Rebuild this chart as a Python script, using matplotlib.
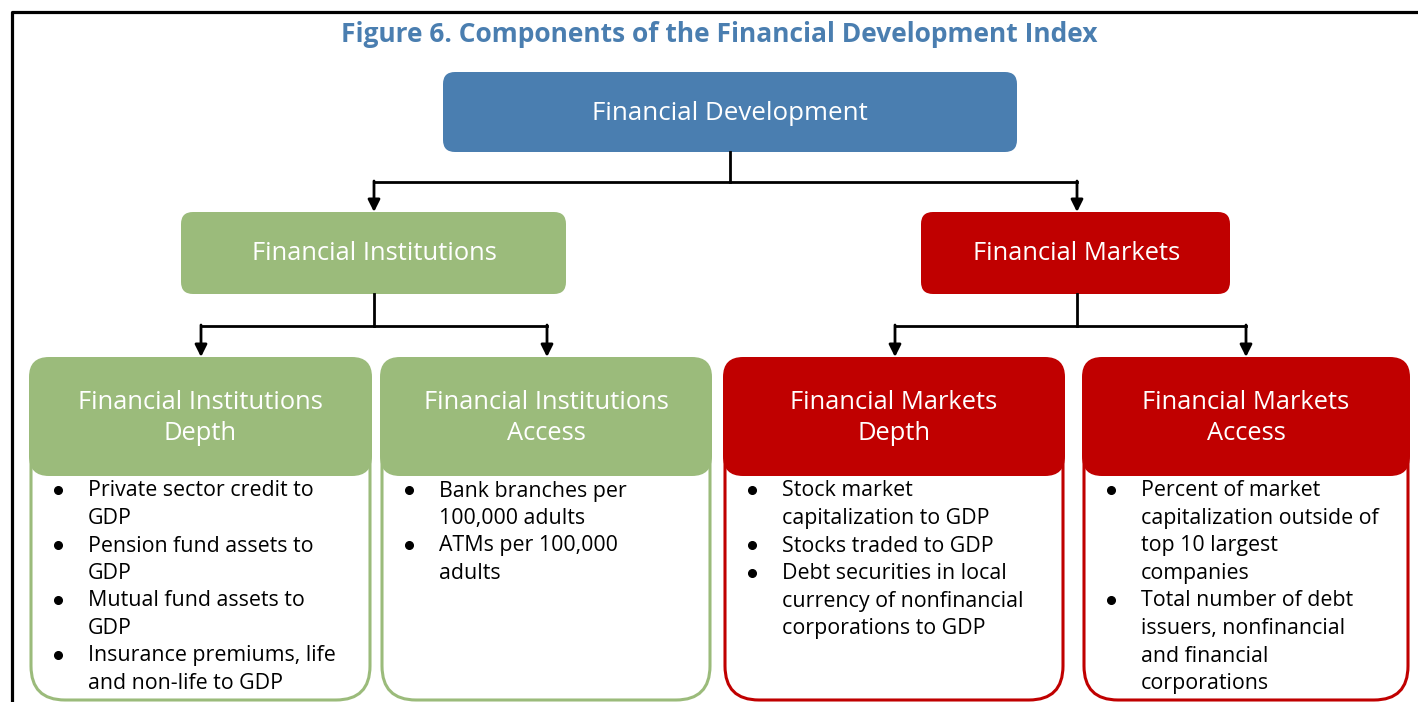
import matplotlib.pyplot as plt
from matplotlib.patches import FancyBboxPatch

plt.rcParams['font.family'] = ['Open Sans', 'DejaVu Sans']

title = "Figure 6. Components of the Financial Development Index"
top_label = "Financial Development"
mid_labels = ["Financial Institutions", "Financial Markets"]
sub_labels = ["Financial Institutions\nDepth", "Financial Institutions\nAccess",
              "Financial Markets\nDepth", "Financial Markets\nAccess"]
# each bullet: list of wrapped lines
fid_items = [["Private sector credit to", "GDP"],
             ["Pension fund assets to", "GDP"],
             ["Mutual fund assets to", "GDP"],
             ["Insurance premiums, life", "and non-life to GDP"]]
fia_items = [["Bank branches per", "100,000 adults"],
             ["ATMs per 100,000", "adults"]]
fmd_items = [["Stock market", "capitalization to GDP"],
             ["Stocks traded to GDP"],
             ["Debt securities in local", "currency of nonfinancial", "corporations to GDP"]]
fma_items = [["Percent of market", "capitalization outside of", "top 10 largest", "companies"],
             ["Total number of debt", "issuers, nonfinancial", "and financial", "corporations"]]
sub_items = [fid_items, fia_items, fmd_items, fma_items]

blue = "#4A7EB0"
green = "#9BBB7B"
red = "#C00000"

W, H = 1418, 702
fig = plt.figure(figsize=(W / 100, H / 100), dpi=100)
ax = fig.add_axes([0, 0, 1, 1])
ax.set_xlim(0, W)
ax.set_ylim(H, 0)
ax.axis('off')

# outer frame (left and top only visible)
ax.plot([12, 12, W + 5], [H + 5, 12, 12], color='black', lw=2.3, solid_capstyle='butt')

ax.text(719, 35, title, ha='center', va='center', fontsize=19, fontweight='bold', color=blue)


def box(x0, y0, x1, y1, color, r, fill=True, lw=0):
    p = FancyBboxPatch((x0, y0), x1 - x0, y1 - y0,
                       boxstyle="round,pad=0,rounding_size=%d" % r,
                       facecolor=color if fill else 'white',
                       edgecolor=color, lw=lw, mutation_aspect=1)
    ax.add_patch(p)


def arrow(x, y0, y1):
    ax.annotate('', xy=(x, y1), xytext=(x, y0),
                arrowprops=dict(arrowstyle='-|>', lw=2, color='black',
                                mutation_scale=18, shrinkA=0, shrinkB=0))


# top box
box(443, 72, 1017, 152, blue, 12)
ax.text(730, 113, top_label, ha='center', va='center', fontsize=18.6, color='white')

# connectors level 1
ax.plot([730, 730], [152, 182], color='black', lw=2)
ax.plot([374, 1077], [182, 182], color='black', lw=2)
arrow(374, 181, 212)
arrow(1077, 181, 212)

mid_boxes = [(181, 566, green, 374), (921, 1230, red, 1077)]
for (x0, x1, c, cx), lab in zip(mid_boxes, mid_labels):
    box(x0, 212, x1, 294, c, 12)
    ax.text(cx, 254, lab, ha='center', va='center', fontsize=18.4, color='white')
    ax.plot([cx, cx], [294, 326], color='black', lw=2)

# connectors level 2
ax.plot([201, 547], [326, 326], color='black', lw=2)
ax.plot([895, 1246], [326, 326], color='black', lw=2)
for x in [201, 547, 895, 1246]:
    arrow(x, 325, 357)

sub_boxes = [(29, 372, green), (380, 712, green), (723, 1065, red), (1082, 1410, red)]
line_h = 27.5
for (x0, x1, c), lab, items in zip(sub_boxes, sub_labels, sub_items):
    box(x0 + 2, 362, x1 - 2, 700, c, 34, fill=False, lw=2.2)
    box(x0, 357, x1, 476, c, 20)
    ax.text((x0 + x1) / 2, 418, lab, ha='center', va='center', fontsize=18.4,
            color='white', linespacing=1.28)
    y = 491
    for item in items:
        ax.plot(x0 + 29, y - 1, 'o', color='black', ms=5.5)
        for ln in item:
            ax.text(x0 + 59, y, ln, ha='left', va='center', fontsize=15.4, color='black')
            y += line_h

fig.savefig("out.png", dpi=100)
